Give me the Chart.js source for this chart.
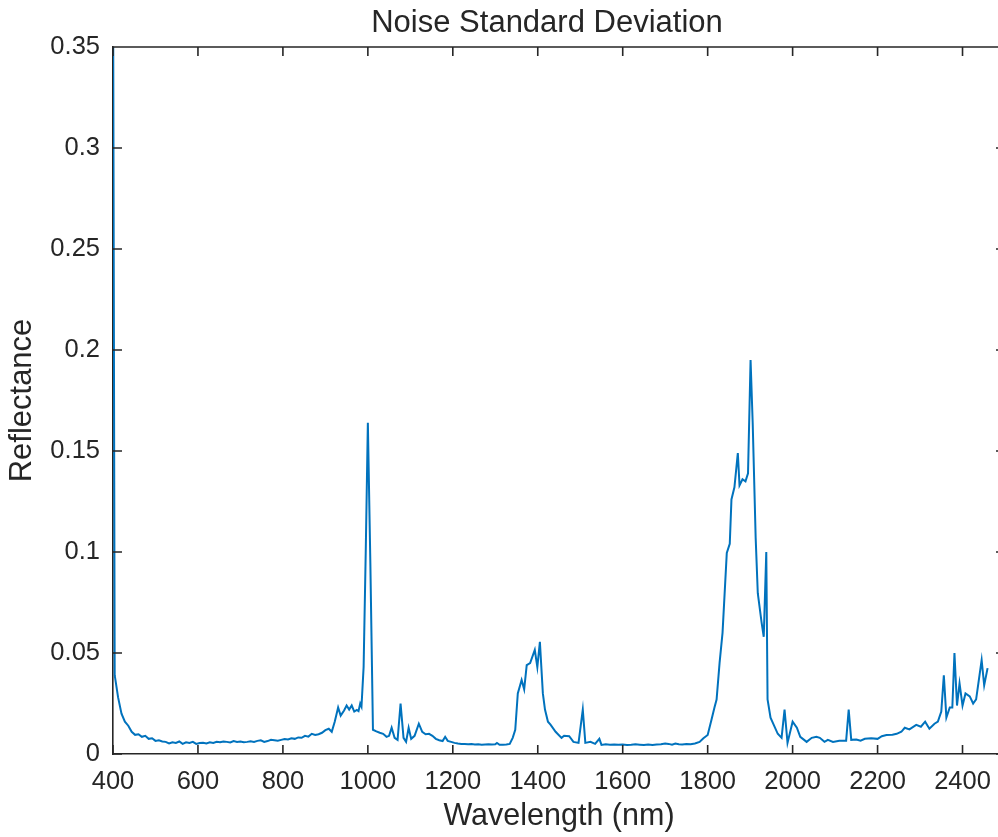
<!DOCTYPE html>
<html>
<head>
<meta charset="utf-8">
<script src="https://cdn.jsdelivr.net/npm/chart.js@4"></script>
<style>
  html, body { margin: 0; padding: 0; background: #fff; overflow: hidden; }
  canvas { display: block; }
</style>
</head>
<body>
<canvas id="chart" width="1012" height="837"></canvas>
<script>
'use strict';

// data
let chartTitle = 'Noise Standard Deviation';
let xTitle = 'Wavelength (nm)';
let yTitle = 'Reflectance';
let xTickValues = [400, 600, 800, 1000, 1200, 1400, 1600, 1800, 2000, 2200, 2400];
let yTickValues = [0, 0.05, 0.1, 0.15, 0.2, 0.25, 0.3, 0.35];

let wavelengths = [
  400, 404, 412, 420, 428, 436, 444, 452, 460, 468, 476, 484, 492, 500, 508, 516, 524, 532, 540, 548,
  556, 564, 572, 580, 588, 596, 604, 612, 620, 628, 636, 644, 652, 660, 668, 676, 684, 692, 700, 708,
  716, 724, 732, 740, 748, 756, 764, 772, 780, 788, 796, 804, 812, 820, 828, 836, 844, 852, 860, 868,
  876, 884, 892, 900, 908, 915, 922, 930, 936, 944, 950, 956, 962, 968, 974, 978, 982, 985, 990, 995,
  1000, 1006, 1012, 1020, 1028, 1036, 1044, 1050, 1056, 1063, 1070, 1077, 1084, 1090, 1096, 1102, 1110, 1120, 1128, 1136,
  1144, 1152, 1160, 1168, 1176, 1182, 1188, 1196, 1204, 1212, 1220, 1228, 1236, 1244, 1252, 1260, 1268, 1276, 1284, 1292,
  1300, 1304, 1310, 1318, 1326, 1334, 1341, 1347, 1353, 1362, 1368, 1374, 1382, 1393, 1399, 1405, 1412, 1417, 1424, 1430,
  1442, 1456, 1462, 1474, 1484, 1496, 1506, 1512, 1524, 1535, 1545, 1550, 1560, 1570, 1580, 1590, 1600, 1610, 1620, 1630,
  1640, 1650, 1660, 1670, 1680, 1690, 1700, 1708, 1716, 1724, 1732, 1740, 1750, 1760, 1770, 1781, 1790, 1800, 1809, 1816,
  1821, 1828, 1835, 1845, 1852, 1856, 1863, 1871, 1875, 1882, 1889, 1895, 1901, 1906, 1913, 1918, 1927, 1932, 1938, 1941,
  1948, 1965, 1974, 1981, 1988, 2000, 2010, 2018, 2033, 2045, 2056, 2064, 2075, 2083, 2095, 2110, 2120, 2126, 2132, 2138,
  2150, 2160, 2170, 2185, 2200, 2210, 2221, 2235, 2245, 2256, 2264, 2275, 2291, 2302, 2312, 2322, 2334, 2342, 2350, 2356,
  2362, 2370, 2376, 2381, 2387, 2393, 2400, 2407, 2417, 2425, 2432, 2445, 2451, 2459
];

let noiseStd = [
  0.40, 0.039, 0.028, 0.020, 0.016, 0.014, 0.011, 0.0095, 0.0098, 0.0085, 0.0090, 0.0075, 0.0078, 0.0065, 0.0068, 0.0062, 0.0060, 0.0052, 0.0058, 0.0055,
  0.0062, 0.0050, 0.0058, 0.0055, 0.0060, 0.0050, 0.0054, 0.0056, 0.0052, 0.0058, 0.0055, 0.0060, 0.0058, 0.0062, 0.0060, 0.0057, 0.0064, 0.0060, 0.0062, 0.0058,
  0.0060, 0.0063, 0.0060, 0.0065, 0.0068, 0.0060, 0.0064, 0.0070, 0.0068, 0.0066, 0.0070, 0.0074, 0.0072, 0.0078, 0.0075, 0.0082, 0.0080, 0.0090, 0.0086, 0.0100,
  0.0094, 0.0098, 0.0105, 0.0118, 0.0125, 0.0110, 0.0160, 0.0230, 0.0190, 0.0215, 0.0240, 0.0220, 0.0240, 0.0210, 0.0218, 0.0212, 0.0250, 0.0235, 0.0430, 0.1000,
  0.1640, 0.0930, 0.0120, 0.0112, 0.0105, 0.0100, 0.0085, 0.0090, 0.0130, 0.0080, 0.0070, 0.0250, 0.0080, 0.0060, 0.0130, 0.0075, 0.0090, 0.0150, 0.0110, 0.0098,
  0.0100, 0.0090, 0.0075, 0.0068, 0.0064, 0.0085, 0.0065, 0.0060, 0.0055, 0.0052, 0.0050, 0.0050, 0.0048, 0.0049, 0.0047, 0.0048, 0.0046, 0.0047, 0.0048, 0.0047,
  0.0048, 0.0055, 0.0046, 0.0046, 0.0047, 0.0050, 0.0080, 0.0120, 0.0300, 0.0366, 0.0320, 0.0440, 0.0450, 0.0515, 0.0430, 0.0555, 0.0300, 0.0220, 0.0160, 0.0145,
  0.0110, 0.0080, 0.0090, 0.0088, 0.0060, 0.0055, 0.0220, 0.0055, 0.0060, 0.0050, 0.0075, 0.0045, 0.0048, 0.0046, 0.0047, 0.0046, 0.0047, 0.0045, 0.0046, 0.0048,
  0.0046, 0.0044, 0.0047, 0.0045, 0.0047, 0.0048, 0.0052, 0.0050, 0.0046, 0.0052, 0.0048, 0.0047, 0.0050, 0.0048, 0.0052, 0.0060, 0.0078, 0.0094, 0.0170, 0.0230,
  0.0270, 0.0450, 0.0600, 0.0995, 0.1040, 0.1260, 0.1320, 0.1490, 0.1330, 0.1360, 0.1350, 0.1390, 0.1950, 0.1640, 0.1070, 0.0796, 0.0650, 0.0580, 0.1000, 0.0270,
  0.0180, 0.0100, 0.0080, 0.0220, 0.0055, 0.0160, 0.0130, 0.0085, 0.0060, 0.0080, 0.0085, 0.0080, 0.0060, 0.0070, 0.0060, 0.0066, 0.0066, 0.0066, 0.0220, 0.0070,
  0.0072, 0.0066, 0.0075, 0.0078, 0.0075, 0.0088, 0.0094, 0.0095, 0.0100, 0.0110, 0.0130, 0.0122, 0.0144, 0.0135, 0.0160, 0.0125, 0.0150, 0.0160, 0.0210, 0.0390,
  0.0180, 0.0230, 0.0230, 0.0500, 0.0240, 0.0350, 0.0240, 0.0300, 0.0285, 0.0250, 0.0270, 0.0465, 0.0340, 0.0425
];

let axisColor = '#262626';
let fontName = '"Liberation Sans", Arial, Helvetica, sans-serif';

// points for the line
let points = [];
for (let i = 0; i < wavelengths.length; i++) {
  points.push({ x: wavelengths[i], y: noiseStd[i] });
}

// MATLAB style box: top/right border, ticks pointing in, plus title
const boxPlugin = {
  id: 'boxPlugin',
  afterDraw(chart) {
    const { ctx, chartArea: a, scales: { x, y } } = chart;
    const len = 9;
    ctx.save();
    ctx.strokeStyle = axisColor;
    ctx.lineWidth = 1.6;
    ctx.beginPath();
    ctx.moveTo(a.left, a.top);
    ctx.lineTo(a.right, a.top);
    ctx.lineTo(a.right, a.bottom);
    x.ticks.forEach(t => {
      let px = x.getPixelForValue(t.value);
      ctx.moveTo(px, a.bottom);
      ctx.lineTo(px, a.bottom - len);
      ctx.moveTo(px, a.top);
      ctx.lineTo(px, a.top + len);
    });
    y.ticks.forEach(t => {
      let py = y.getPixelForValue(t.value);
      ctx.moveTo(a.left, py);
      ctx.lineTo(a.left + len, py);
      ctx.moveTo(a.right, py);
      ctx.lineTo(a.right - len, py);
    });
    ctx.stroke();

    ctx.fillStyle = axisColor;
    ctx.font = '31px ' + fontName;
    ctx.textAlign = 'center';
    ctx.textBaseline = 'alphabetic';
    ctx.fillText(chartTitle, 547, 31.5);
    ctx.restore();
  }
};

const ctx = document.getElementById('chart').getContext('2d');
const myChart = new Chart(ctx, {
  type: 'line',
  data: {
    datasets: [{
      label: chartTitle,
      data: points,
      borderColor: '#0072BD',
      borderWidth: 2,
      pointRadius: 0,
      tension: 0,
      fill: false
    }]
  },
  options: {
    responsive: false,
    animation: false,
    layout: { padding: { top: 47, right: 7, bottom: 0, left: 0 } },
    plugins: {
      legend: { display: false },
      tooltip: { enabled: false }
    },
    scales: {
      x: {
        type: 'linear',
        min: 400,
        max: 2500,
        afterBuildTicks: scale => {
          scale.ticks = xTickValues.map(v => ({ value: v }));
        },
        afterFit: scale => { scale.height = 83; },
        ticks: {
          color: axisColor,
          font: { family: fontName, size: 25.5, lineHeight: 1.2 },
          padding: 13,
          maxRotation: 0,
          autoSkip: false,
          callback: v => String(v)
        },
        grid: { display: true, drawOnChartArea: false, drawTicks: false },
        border: { display: true, color: axisColor, width: 1.6 },
        title: {
          display: true,
          text: xTitle,
          color: axisColor,
          font: { family: fontName, size: 30.5, lineHeight: 1.2 },
          padding: { top: 0, bottom: 2 }
        }
      },
      y: {
        type: 'linear',
        min: 0,
        max: 0.35,
        afterBuildTicks: scale => {
          scale.ticks = yTickValues.map(v => ({ value: v }));
        },
        afterFit: scale => { scale.width = 113; },
        ticks: {
          color: axisColor,
          font: { family: fontName, size: 25.5, lineHeight: 1.2 },
          padding: 13,
          autoSkip: false,
          callback: v => String(+v.toFixed(2))
        },
        grid: { display: true, drawOnChartArea: false, drawTicks: false },
        border: { display: true, color: axisColor, width: 1.6 },
        title: {
          display: true,
          text: yTitle,
          color: axisColor,
          font: { family: fontName, size: 31, lineHeight: 1.2 },
          padding: { top: 4, bottom: 0 }
        }
      }
    }
  },
  plugins: [boxPlugin]
});
</script>
</body>
</html>
